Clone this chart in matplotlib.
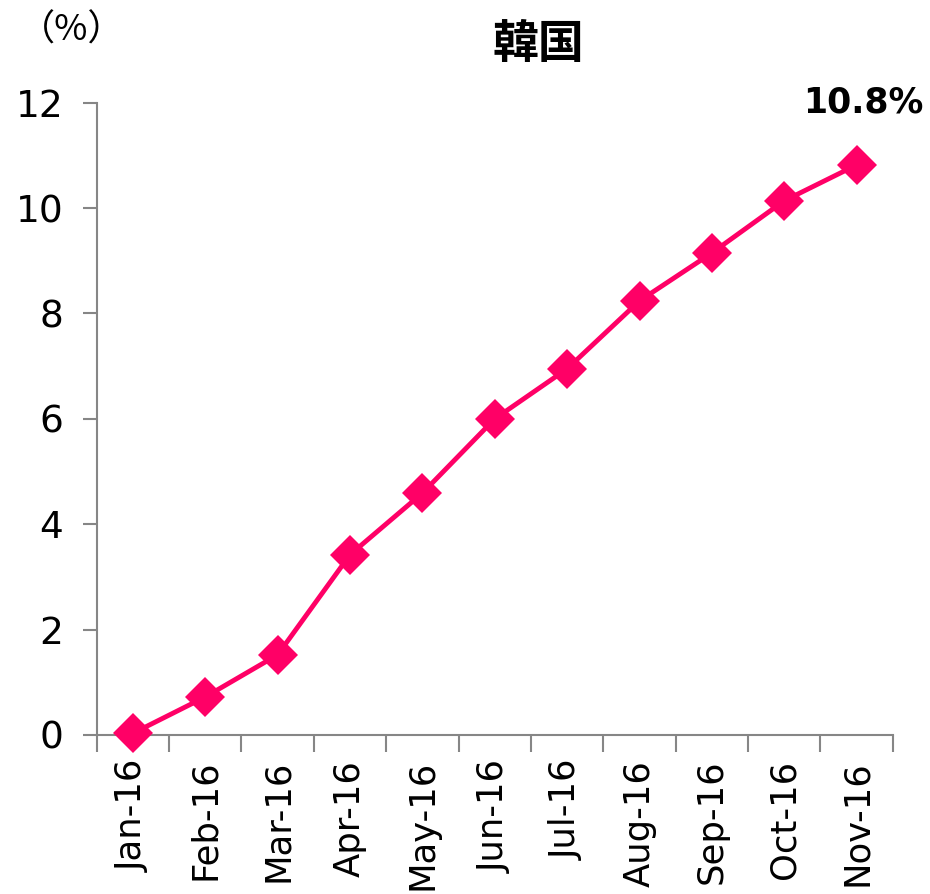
import matplotlib
matplotlib.use('Agg')
import matplotlib.pyplot as plt
import numpy as np

# Data
months = ['Jan-16', 'Feb-16', 'Mar-16', 'Apr-16', 'May-16', 'Jun-16',
          'Jul-16', 'Aug-16', 'Sep-16', 'Oct-16', 'Nov-16']
values = [0.03, 0.72, 1.52, 3.42, 4.59, 6.0, 6.95, 8.24, 9.15, 10.14, 10.82]
title = '韓国'
last_label = '10.8%'

plt.rcParams['font.family'] = ['DejaVu Sans', 'Noto Sans CJK JP']

PINK = '#FF0066'
GREY = '#868686'

fig = plt.figure(figsize=(9.3, 8.94), dpi=100)
ax = fig.add_axes([0.104, 0.178, 0.856, 0.707])

x = np.arange(len(months))
ax.plot(x, values, color=PINK, lw=3.5, marker='D', markersize=20,
        markeredgewidth=0, zorder=3, clip_on=False)

ax.set_xlim(-0.5, len(months) - 0.5)
ax.set_ylim(0, 12)
ax.set_yticks(range(0, 13, 2))

# category ticks sit between the labels
ax.set_xticks(np.arange(-0.5, len(months), 1.0))
ax.set_xticklabels([])
ax.set_xticks(x, minor=True)
ax.set_xticklabels(months, minor=True, rotation=90, fontsize=25.5)
ax.tick_params(axis='x', which='minor', length=0, pad=18)
ax.tick_params(axis='x', which='major', length=12, width=1.5, color=GREY)
ax.tick_params(axis='y', length=10, width=1.5, color=GREY, labelsize=27, pad=14)

for side in ['top', 'right']:
    ax.spines[side].set_visible(False)
for side in ['left', 'bottom']:
    ax.spines[side].set_color(GREY)
    ax.spines[side].set_linewidth(1.5)

fig.text(0.579, 0.95, title, ha='center', va='center', fontsize=33,
         fontweight='bold', family=['Noto Sans CJK JP'])
fig.text(0.077, 0.966, '（%）', ha='center', va='center', fontsize=26,
         family=['Noto Sans CJK JP', 'DejaVu Sans'])
ax.annotate(last_label, xy=(x[-1], values[-1]), xytext=(5, 45),
            textcoords='offset points', ha='center', va='center',
            fontsize=25, fontweight='bold', annotation_clip=False)

fig.savefig('out.png', dpi=100)
